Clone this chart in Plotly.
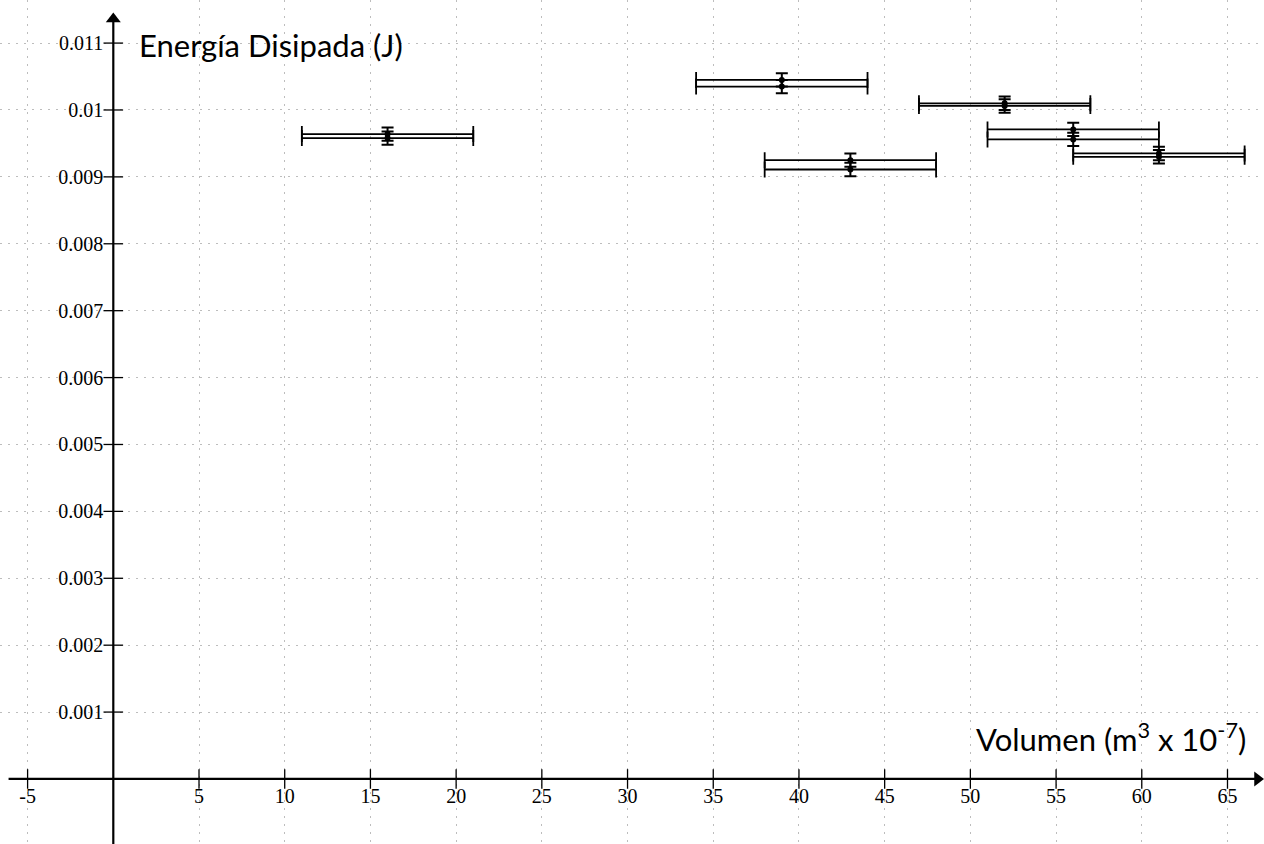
import plotly.graph_objects as go

# Measured volume (m^3 x 10^-7) and dissipated energy (J), two runs per volume
volumen = [16, 39, 43, 52, 56, 61]
energia_a = [0.00964, 0.01045, 0.00925, 0.01010, 0.00971, 0.00935]
energia_b = [0.00958, 0.01035, 0.00911, 0.01006, 0.00956, 0.00930]
err_volumen = 5
err_energia = 0.0001

# Axis ticks
x_ticks = [-5, 5, 10, 15, 20, 25, 30, 35, 40, 45, 50, 55, 60, 65]
x_tick_text = ["-5", "5", "10", "15", "20", "25", "30", "35", "40", "45", "50",
               "55", "60", "65"]
y_ticks = [0.001, 0.002, 0.003, 0.004, 0.005, 0.006, 0.007, 0.008, 0.009, 0.01, 0.011]
y_tick_text = ["0.001", "0.002", "0.003", "0.004", "0.005", "0.006", "0.007",
               "0.008", "0.009", "0.01", "0.011"]

x_range = [-6.61, 67.13]
y_range = [-0.000972, 0.011644]
x_axis_end = 66.75
y_axis_end = 0.01136

# Where the origin falls inside the plot area
x_axis_pos = (0 - y_range[0]) / (y_range[1] - y_range[0])
y_axis_pos = (0 - x_range[0]) / (x_range[1] - x_range[0])

fig = go.Figure()

# Axis lines through the origin
fig.add_trace(go.Scatter(
    x=[x_range[0] + 0.5, x_axis_end], y=[0, 0], mode="lines",
    line=dict(color="black", width=2.2), hoverinfo="skip", showlegend=False,
))
fig.add_trace(go.Scatter(
    x=[0, 0], y=[y_range[0], y_axis_end], mode="lines",
    line=dict(color="black", width=2.2), hoverinfo="skip", showlegend=False,
))
# Arrowheads at the positive ends
fig.add_trace(go.Scatter(
    x=[x_axis_end, 0], y=[0, y_axis_end], mode="markers",
    marker=dict(symbol=["triangle-right", "triangle-up"], size=13, color="black",
                line=dict(width=0)),
    hoverinfo="skip", showlegend=False,
))

# Cross-shaped tick marks along both axes
fig.add_trace(go.Scatter(
    x=x_ticks, y=[0] * len(x_ticks), mode="markers",
    marker=dict(symbol="line-ns", size=14, line=dict(color="black", width=1.3)),
    hoverinfo="skip", showlegend=False,
))
fig.add_trace(go.Scatter(
    x=[0] * len(y_ticks), y=y_ticks, mode="markers",
    marker=dict(symbol="line-ew", size=14, line=dict(color="black", width=1.3)),
    hoverinfo="skip", showlegend=False,
))


def add_series(yvals):
    fig.add_trace(go.Scatter(
        x=volumen, y=yvals, mode="markers",
        marker=dict(color="black", size=6),
        error_x=dict(type="constant", value=err_volumen, color="black",
                     thickness=1.8, width=8),
        error_y=dict(type="constant", value=err_energia, color="black",
                     thickness=2, width=6),
        hoverinfo="skip", showlegend=False,
    ))


add_series(energia_a)
add_series(energia_b)

# Axis titles
fig.add_annotation(x=0.1084, y=0.9467, xref="paper", yref="paper",
                   xanchor="left", yanchor="middle", showarrow=False,
                   text="Energía Disipada (J)",
                   font=dict(family="Lato", size=31, color="black"))
fig.add_annotation(x=0.9873, y=1 - 737 / 844, xref="paper", yref="paper",
                   xanchor="right", yanchor="middle", showarrow=False,
                   text="Volumen (m<sup>3</sup> x 10<sup>-7</sup>)",
                   font=dict(family="Lato", size=31, color="black"))

grid = dict(showgrid=True, gridcolor="#bdbdbd", gridwidth=1, griddash="2px,6px")
tick_font = dict(family="Liberation Serif", size=20, color="black")

fig.update_layout(
    width=1264, height=844,
    margin=dict(l=0, r=0, t=0, b=0),
    paper_bgcolor="white", plot_bgcolor="white",
    xaxis=dict(range=x_range, tickvals=x_ticks, ticktext=x_tick_text, ticks="",
               zeroline=False, showline=False, anchor="free", position=x_axis_pos,
               ticklabelstandoff=3, tickfont=tick_font, fixedrange=True, **grid),
    yaxis=dict(range=y_range, tickvals=y_ticks, ticktext=y_tick_text, ticks="",
               zeroline=False, showline=False, anchor="free", position=y_axis_pos,
               ticklabelstandoff=10, tickfont=tick_font, fixedrange=True, **grid),
)

fig.write_html("out.html")
